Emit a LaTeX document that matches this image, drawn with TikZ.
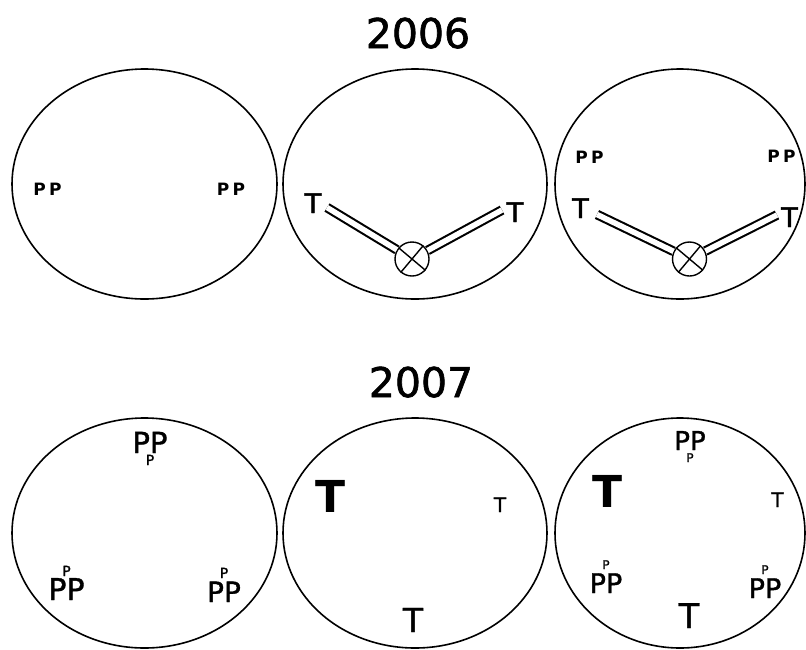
\documentclass[tikz,border=0pt]{standalone}
\usepackage{fontspec}
\setmainfont[FakeBold=1.2]{DejaVu Sans}
\newfontfamily\boldsans{DejaVu Sans Bold}
\newfontfamily\medsans[FakeBold=1.5]{DejaVu Sans}
\usetikzlibrary{shapes.geometric}
\tikzset{
  oval/.style={draw, ellipse, line width=1.6pt, inner sep=0pt},
  lab/.style={inner sep=0pt, anchor=base},
  dbl/.style={draw, double, double distance=5.5pt, line width=2.1pt},
  xcirc/.style={draw, circle, line width=1.4pt, minimum size=34pt, inner sep=0pt},
  title/.style={inner sep=0pt, anchor=base, font=\medsans\fontsize{41}{41}\selectfont}
}
\newcommand{\fs}[1]{\fontsize{#1}{#1}\selectfont}
\newcommand{\PsubP}[1]{P\makebox[0pt]{\raisebox{-12pt}{\medsans\fs{#1}P}}P}
\newcommand{\PsupP}[1]{P\makebox[0pt]{\raisebox{24pt}{\medsans\fs{#1}P}}P}
\begin{document}
\begin{tikzpicture}[x=1pt,y=-1pt]
\useasboundingbox (0,0) rectangle (806,649);
% titles
\node[title] (t1) at (418,48) {\mbox{\medsans 2006}};
\node[title] (t2) at (421,397) {\mbox{\medsans 2007}};
% ellipses top
\node[oval, minimum width=265pt, minimum height=230pt] (e1) at (144.5,184) {};
\node[oval, minimum width=264pt, minimum height=230pt] (e2) at (415,184) {};
\node[oval, minimum width=250pt, minimum height=230pt] (e3) at (680,184) {};
% ellipses bottom
\node[oval, minimum width=265pt, minimum height=230pt] (e4) at (144.5,533) {};
\node[oval, minimum width=264pt, minimum height=230pt] (e5) at (415,533) {};
\node[oval, minimum width=250pt, minimum height=230pt] (e6) at (680,533) {};
% top-left
\node[lab, font=\boldsans\fs{17}] (p1) at (47.5,195) {P\kern3.5pt P};
\node[lab, font=\boldsans\fs{17}] (p2) at (231,195) {P\kern3.5pt P};
% top-center
\node[lab, font=\medsans\fs{27}] (tc1) at (313,213) {T};
\node[lab, font=\medsans\fs{27}] (tc2) at (515,222) {T};
\node[xcirc] (c1) at (412,259) {};
\draw[line width=1.4pt] (c1.140) -- (c1.-40) (c1.50) -- (c1.230);
\coordinate (a1) at (327,207.5);
\coordinate (b1) at (502,210);
\draw[dbl] (a1) -- (c1);
\draw[dbl] (c1) -- (b1);
% top-right
\node[lab, font=\boldsans\fs{17}] (p3) at (589.5,163) {P\kern3.5pt P};
\node[lab, font=\boldsans\fs{17}] (p4) at (781.5,162) {P\kern3.5pt P};
\node[lab, font=\medsans\fs{27}] (tr1) at (580.5,218) {T};
\node[lab, font=\medsans\fs{27}] (tr2) at (789.5,227) {T};
\node[xcirc] (c2) at (689.5,259) {};
\draw[line width=1.4pt] (c2.140) -- (c2.-40) (c2.50) -- (c2.230);
\coordinate (a2) at (597,214.5);
\coordinate (b2) at (777,215);
\draw[dbl] (a2) -- (c2);
\draw[dbl] (c2) -- (b2);
% bottom-left
\node[lab, font=\fs{29}] (q1) at (150,453) {\PsubP{14}};
\node[lab, font=\fs{30}] (q2) at (66.5,600) {\PsupP{14}};
\node[lab, font=\fs{28}] (q3) at (224,602) {\PsupP{14}};
% bottom-center
\node[lab, font=\boldsans\fs{44}] (u1) at (330.5,512) {T};
\node[lab, font=\fs{20}] (u2) at (500,512) {T};
\node[lab, font=\fs{33}] (u3) at (413,632) {T};
% bottom-right
\node[lab, font=\fs{26}] (r1) at (690,450) {\PsubP{12}};
\node[lab, font=\boldsans\fs{44}] (r2) at (607.5,507) {T};
\node[lab, font=\fs{20}] (r3) at (777.5,507) {T};
\node[lab, font=\fs{27}] (r4) at (606,593) {\PsupP{12}};
\node[lab, font=\fs{27}] (r5) at (765,598) {\PsupP{12}};
\node[lab, font=\fs{34}] (r6) at (689,628) {T};
\end{tikzpicture}
\end{document}
